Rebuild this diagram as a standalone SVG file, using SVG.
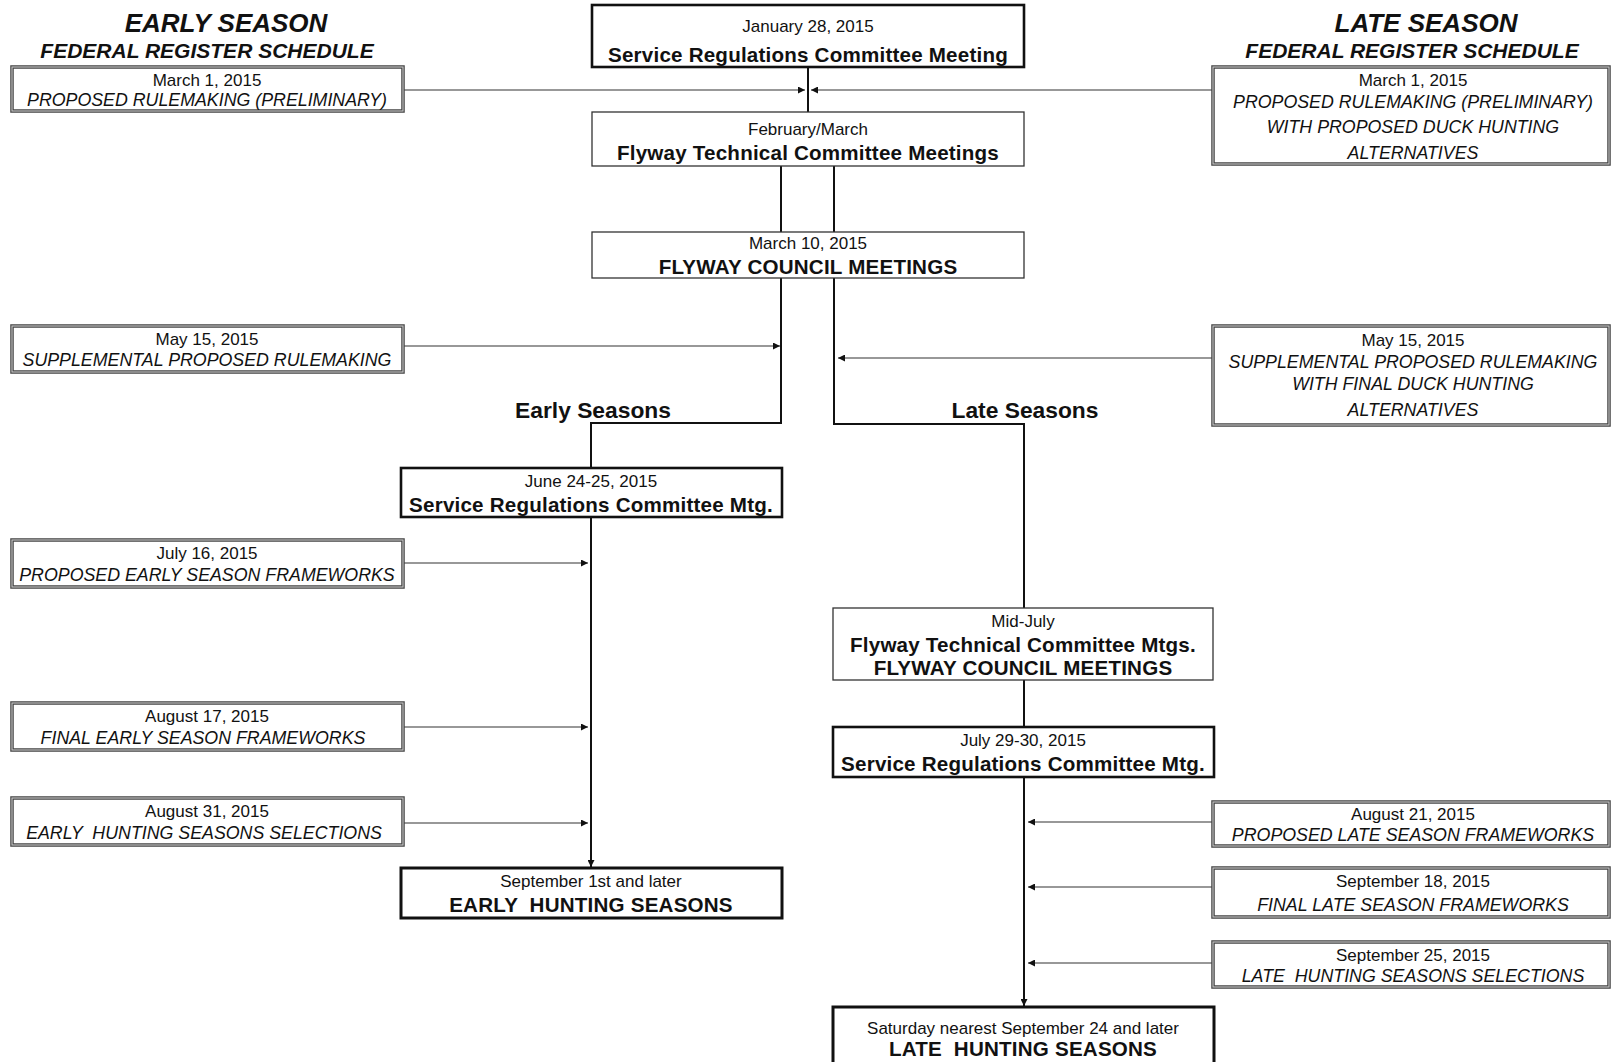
<svg xmlns="http://www.w3.org/2000/svg" width="1619" height="1062" viewBox="0 0 1619 1062">
<style>
text{font-family:"Liberation Sans",Arial,sans-serif;fill:#111;text-anchor:middle;white-space:pre}
.hdr{font-weight:bold;font-style:italic;font-size:26px}
.sub{font-weight:bold;font-style:italic;font-size:21px}
.date{font-size:17px}
.it{font-style:italic;font-size:17.8px}
.b{font-weight:bold;font-size:20.6px;letter-spacing:0.2px}
.lab{font-weight:bold;font-size:22.8px}
.fr{fill:#fff;stroke:#444;stroke-width:3.5}
.frin{fill:none;stroke:#c8c8c8;stroke-width:1.1}
.thick{fill:#fff;stroke:#111;stroke-width:2.6}
.thin{fill:#fff;stroke:#333;stroke-width:1.3}
.main{fill:none;stroke:#111;stroke-width:2}
.feed{fill:none;stroke:#333;stroke-width:1.2}
</style>
<defs>
<marker id="ah" viewBox="0 0 10 10" refX="10" refY="5" markerWidth="9" markerHeight="7" markerUnits="userSpaceOnUse" orient="auto">
<path d="M0,0 L10,5 L0,10 z" fill="#111"/>
</marker>
</defs>

<g id="headers">
<text class="hdr" x="226" y="32">EARLY SEASON</text>
<text class="sub" x="207" y="58">FEDERAL REGISTER SCHEDULE</text>
<text class="hdr" x="1426" y="32">LATE SEASON</text>
<text class="sub" x="1412" y="58">FEDERAL REGISTER SCHEDULE</text>
</g>

<g id="connectors">
<line class="main" x1="808" y1="67" x2="808" y2="112"/>
<line class="main" x1="781" y1="166" x2="781" y2="232"/>
<line class="main" x1="834" y1="166" x2="834" y2="232"/>
<polyline class="main" points="781,278 781,423 591,423 591,468"/>
<polyline class="main" points="834,278 834,424 1024,424 1024,608"/>
<line class="main" x1="591" y1="517" x2="591" y2="867" marker-end="url(#ah)"/>
<line class="main" x1="1024" y1="680" x2="1024" y2="727"/>
<line class="main" x1="1024" y1="777" x2="1024" y2="1006" marker-end="url(#ah)"/>
<line class="feed" x1="403" y1="90" x2="805" y2="90" marker-end="url(#ah)"/>
<line class="feed" x1="1213" y1="90" x2="811" y2="90" marker-end="url(#ah)"/>
<line class="feed" x1="403" y1="346" x2="780" y2="346" marker-end="url(#ah)"/>
<line class="feed" x1="1213" y1="358" x2="838" y2="358" marker-end="url(#ah)"/>
<line class="feed" x1="403" y1="563" x2="588" y2="563" marker-end="url(#ah)"/>
<line class="feed" x1="403" y1="727" x2="588" y2="727" marker-end="url(#ah)"/>
<line class="feed" x1="403" y1="823" x2="588" y2="823" marker-end="url(#ah)"/>
<line class="feed" x1="1213" y1="822" x2="1028" y2="822" marker-end="url(#ah)"/>
<line class="feed" x1="1213" y1="887" x2="1028" y2="887" marker-end="url(#ah)"/>
<line class="feed" x1="1213" y1="963" x2="1028" y2="963" marker-end="url(#ah)"/>
</g>

<g id="labels">
<text class="lab" x="593" y="418">Early Seasons</text>
<text class="lab" x="1025" y="418">Late Seasons</text>
</g>

<g id="n-jan28">
<rect class="thick" x="592" y="5" width="432" height="62"/>
<text class="date" x="808" y="32">January 28, 2015</text>
<text class="b" x="808" y="62">Service Regulations Committee Meeting</text>
</g>
<g id="n-febmar">
<rect class="thin" x="592" y="112" width="432" height="54"/>
<text class="date" x="808" y="135">February/March</text>
<text class="b" x="808" y="160">Flyway Technical Committee Meetings</text>
</g>
<g id="n-mar10">
<rect class="thin" x="592" y="232" width="432" height="46"/>
<text class="date" x="808" y="249">March 10, 2015</text>
<text class="b" x="808" y="274">FLYWAY COUNCIL MEETINGS</text>
</g>
<g id="n-june">
<rect class="thick" x="401" y="468" width="381" height="49"/>
<text class="date" x="591" y="487">June 24-25, 2015</text>
<text class="b" x="591" y="512">Service Regulations Committee Mtg.</text>
</g>
<g id="n-sept1">
<rect class="thick" x="401" y="868" width="381" height="50" style="stroke-width:3"/>
<text class="date" x="591" y="887">September 1st and later</text>
<text class="b" x="591" y="912">EARLY  HUNTING SEASONS</text>
</g>
<g id="n-midjuly">
<rect class="thin" x="833" y="608" width="380" height="72"/>
<text class="date" x="1023" y="627">Mid-July</text>
<text class="b" x="1023" y="652">Flyway Technical Committee Mtgs.</text>
<text class="b" x="1023" y="675">FLYWAY COUNCIL MEETINGS</text>
</g>
<g id="n-july29">
<rect class="thick" x="833" y="727" width="381" height="50"/>
<text class="date" x="1023" y="746">July 29-30, 2015</text>
<text class="b" x="1023" y="771">Service Regulations Committee Mtg.</text>
</g>
<g id="n-saturday">
<rect class="thick" x="833" y="1007" width="381" height="70" style="stroke-width:3"/>
<text class="date" x="1023" y="1034">Saturday nearest September 24 and later</text>
<text class="b" x="1023" y="1056">LATE  HUNTING SEASONS</text>
</g>

<g id="fr-e-mar1">
<rect class="fr" x="12" y="67" width="391" height="44"/><rect class="frin" x="12" y="67" width="391" height="44"/>
<text class="date" x="207" y="86">March 1, 2015</text>
<text class="it" x="207" y="106">PROPOSED RULEMAKING (PRELIMINARY)</text>
</g>
<g id="fr-e-may15">
<rect class="fr" x="12" y="326" width="391" height="46"/><rect class="frin" x="12" y="326" width="391" height="46"/>
<text class="date" x="207" y="345">May 15, 2015</text>
<text class="it" x="207" y="366">SUPPLEMENTAL PROPOSED RULEMAKING</text>
</g>
<g id="fr-e-jul16">
<rect class="fr" x="12" y="540" width="391" height="47"/><rect class="frin" x="12" y="540" width="391" height="47"/>
<text class="date" x="207" y="559">July 16, 2015</text>
<text class="it" x="207" y="581">PROPOSED EARLY SEASON FRAMEWORKS</text>
</g>
<g id="fr-e-aug17">
<rect class="fr" x="12" y="703" width="391" height="47"/><rect class="frin" x="12" y="703" width="391" height="47"/>
<text class="date" x="207" y="722">August 17, 2015</text>
<text class="it" x="203" y="744">FINAL EARLY SEASON FRAMEWORKS</text>
</g>
<g id="fr-e-aug31">
<rect class="fr" x="12" y="798" width="391" height="47"/><rect class="frin" x="12" y="798" width="391" height="47"/>
<text class="date" x="207" y="817">August 31, 2015</text>
<text class="it" x="204" y="839">EARLY  HUNTING SEASONS SELECTIONS</text>
</g>

<g id="fr-l-mar1">
<rect class="fr" x="1213" y="67" width="396" height="97"/><rect class="frin" x="1213" y="67" width="396" height="97"/>
<text class="date" x="1413" y="86">March 1, 2015</text>
<text class="it" x="1413" y="108">PROPOSED RULEMAKING (PRELIMINARY)</text>
<text class="it" x="1413" y="133">WITH PROPOSED DUCK HUNTING</text>
<text class="it" x="1413" y="159">ALTERNATIVES</text>
</g>
<g id="fr-l-may15">
<rect class="fr" x="1213" y="326" width="396" height="99"/><rect class="frin" x="1213" y="326" width="396" height="99"/>
<text class="date" x="1413" y="346">May 15, 2015</text>
<text class="it" x="1413" y="368">SUPPLEMENTAL PROPOSED RULEMAKING</text>
<text class="it" x="1413" y="390">WITH FINAL DUCK HUNTING</text>
<text class="it" x="1413" y="416">ALTERNATIVES</text>
</g>
<g id="fr-l-aug21">
<rect class="fr" x="1213" y="802" width="396" height="44"/><rect class="frin" x="1213" y="802" width="396" height="44"/>
<text class="date" x="1413" y="820">August 21, 2015</text>
<text class="it" x="1413" y="841">PROPOSED LATE SEASON FRAMEWORKS</text>
</g>
<g id="fr-l-sep18">
<rect class="fr" x="1213" y="868" width="396" height="49"/><rect class="frin" x="1213" y="868" width="396" height="49"/>
<text class="date" x="1413" y="887">September 18, 2015</text>
<text class="it" x="1413" y="911">FINAL LATE SEASON FRAMEWORKS</text>
</g>
<g id="fr-l-sep25">
<rect class="fr" x="1213" y="942" width="396" height="45"/><rect class="frin" x="1213" y="942" width="396" height="45"/>
<text class="date" x="1413" y="961">September 25, 2015</text>
<text class="it" x="1413" y="982">LATE  HUNTING SEASONS SELECTIONS</text>
</g>
</svg>
